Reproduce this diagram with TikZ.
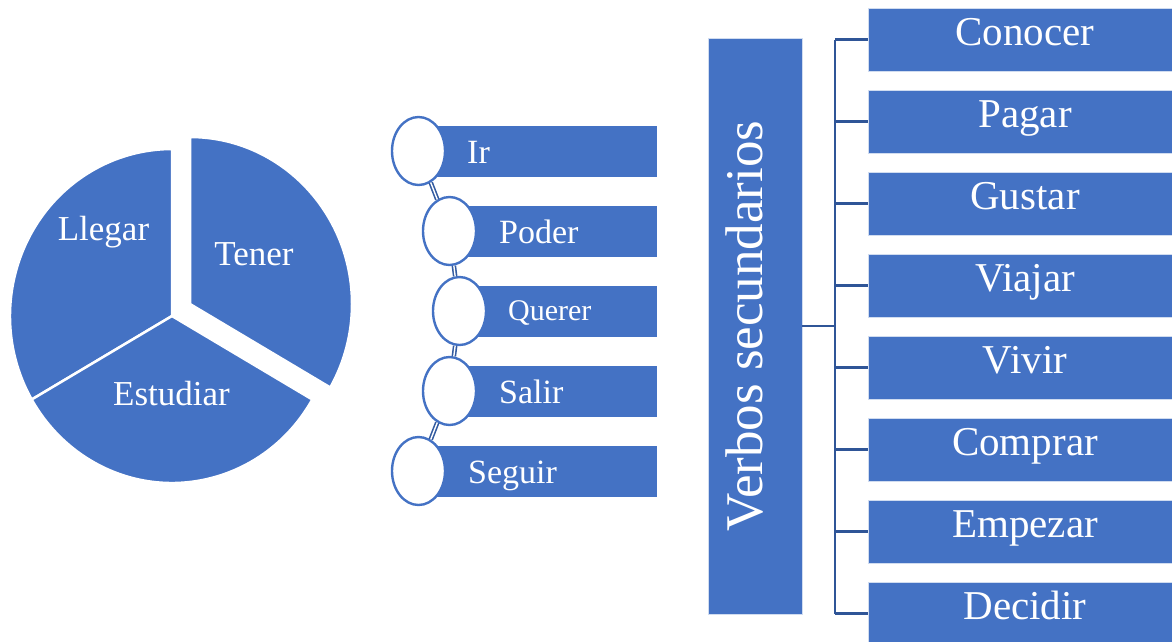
\documentclass[tikz,border=0pt]{standalone}
\usepackage{fontspec}
\setmainfont{Liberation Serif}
\usetikzlibrary{shapes.geometric}
\definecolor{sablue}{HTML}{4472C4}
\definecolor{lineblue}{HTML}{2F5597}
\tikzset{
  pie/.style={fill=sablue, draw=white, line width=2.5pt, line join=miter},
  pietext/.style={text=white, anchor=base, inner sep=0pt, font=\fontsize{35}{40}\selectfont},
  barbox/.style={fill=sablue, draw=none, anchor=west, minimum height=51pt, inner sep=0pt},
  ring/.style={ellipse, fill=white, draw=sablue, line width=2.4pt, minimum width=53pt, minimum height=68pt, inner sep=0pt},
  link/.style={draw=lineblue!80!sablue, line width=1.6pt, double=white, double distance=1.4pt},
  bartext/.style={text=white, anchor=base west, inner sep=0pt, font=\fontsize{34}{40}\selectfont},
  sidebox/.style={fill=sablue, draw=white!75!sablue, line width=0.8pt, anchor=base, inner sep=0pt,
    minimum width=314pt, text height=37pt, text depth=26pt, text=white, font=\fontsize{41}{46}\selectfont},
  headbox/.style={fill=sablue, draw=white!75!sablue, line width=0.8pt, rotate=90, anchor=base, inner sep=0pt,
    minimum width=576pt, text height=54pt, text depth=40pt, text=white, font=\fontsize{53}{60}\selectfont},
  bracket/.style={draw=lineblue, line width=2.5pt}
}
\begin{document}
\begin{tikzpicture}[x=1pt,y=-1pt]
\useasboundingbox (0,0) rectangle (1172,641);

% pie chart with the "Tener" slice pulled out
\path[pie] (172,316) -- ++(150:162 and 167) arc[start angle=150, end angle=270, x radius=162, y radius=167] -- cycle;
\path[pie] (172,316) -- ++(30:162 and 167) arc[start angle=30, end angle=150, x radius=162, y radius=167] -- cycle;
\path[pie] (190,304) -- ++(-90:162 and 167) arc[start angle=-90, end angle=30, x radius=162, y radius=167] -- cycle;
\node[pietext] (llegar) at (103.5,240) {Llegar};
\node[pietext] (tener) at (254,265) {Tener};
\node[pietext] (estudiar) at (171.5,405) {Estudiar};

% chain of verbs
\node[barbox, minimum width=238.5pt] (b1) at (418.5,151) {};
\node[barbox, minimum width=207.5pt] (b2) at (449.5,231) {};
\node[barbox, minimum width=197.5pt] (b3) at (459.5,311) {};
\node[barbox, minimum width=207.5pt] (b4) at (449.5,391) {};
\node[barbox, minimum width=238.5pt] (b5) at (418.5,471) {};

\node[ring] (c1) at (418.5,151) {};
\node[ring] (c2) at (449.5,231) {};
\node[ring] (c3) at (459.5,311) {};
\node[ring] (c4) at (449.5,391) {};
\node[ring] (c5) at (418.5,471) {};
\draw[link] (c1) -- (c2);
\draw[link] (c2) -- (c3);
\draw[link] (c3) -- (c4);
\draw[link] (c4) -- (c5);

\node[bartext] (ir) at (467,163) {Ir};
\node[bartext] (poder) at (499,243) {Poder};
\node[bartext, font=\fontsize{30}{36}\selectfont] (querer) at (508,320.5) {Querer};
\node[bartext] (salir) at (499,403) {Salir};
\node[bartext] (seguir) at (468,483) {Seguir};

% secondary verbs
\node[headbox] (verbos) at (762,326) {Verbos secundarios};
\node[sidebox] (v1) at (1025,45) {Conocer};
\node[sidebox] (v2) at (1025,127) {Pagar};
\node[sidebox] (v3) at (1025,209) {Gustar};
\node[sidebox] (v4) at (1025,291) {Viajar};
\node[sidebox] (v5) at (1025,373) {Vivir};
\node[sidebox] (v6) at (1025,455) {Comprar};
\node[sidebox] (v7) at (1025,537) {Empezar};
\node[sidebox] (v8) at (1025,619) {Decidir};

\coordinate (bk) at (835,326);
\draw[bracket] (verbos.south) -- (bk);
\draw[bracket] (bk |- v1.west) -- (bk |- v8.west);
\foreach \i in {1,...,8}
  \draw[bracket] (bk |- v\i.west) -- (v\i.west);
\end{tikzpicture}
\end{document}
